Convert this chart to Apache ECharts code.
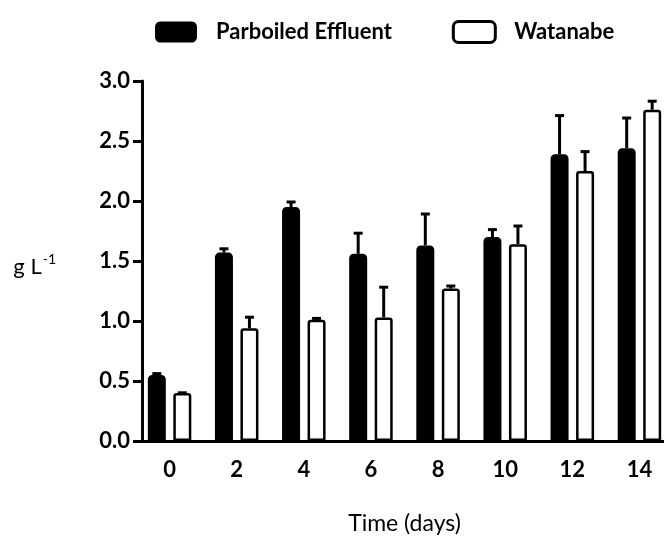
<!DOCTYPE html>
<html>
<head>
<meta charset="utf-8">
<script src="https://cdn.jsdelivr.net/npm/echarts@6/dist/echarts.min.js"></script>
<style>
html, body { margin: 0; padding: 0; background: #fff; }
#main { width: 664px; height: 537px; }
</style>
</head>
<body>
<div id="main"></div>
<script>
// days
const days = ['0', '2', '4', '6', '8', '10', '12', '14']
// means, g L-1
const parboiled = [0.55, 1.57, 1.95, 1.56, 1.63, 1.70, 2.39, 2.44]
const watanabe = [0.40, 0.94, 1.01, 1.03, 1.27, 1.64, 2.25, 2.76]
// upper error (SD)
const parboiledErr = [0.02, 0.04, 0.05, 0.18, 0.27, 0.07, 0.33, 0.26]
const watanabeErr = [0.01, 0.10, 0.02, 0.26, 0.03, 0.16, 0.17, 0.08]
const yTicks = [0, 0.5, 1, 1.5, 2, 2.5, 3]

const FONT = 'Lato'
const BAR_W = 18
const BAR_GAP = 7.5
const half = (BAR_W + BAR_GAP) / 2

function errData(means, errs) {
    return means.map((m, i) => [i, m, m + errs[i]])
}

function errRender(dx) {
    return function (params, api) {
        const lo = api.coord([api.value(0), api.value(1)])
        const hi = api.coord([api.value(0), api.value(2)])
        const x = lo[0] + dx
        return {
            type: 'group',
            children: [
                { type: 'line', shape: { x1: x, y1: lo[1], x2: x, y2: hi[1] + 1 }, style: { stroke: '#000', lineWidth: 3 } },
                { type: 'line', shape: { x1: x - 4.5, y1: hi[1] + 1, x2: x + 4.5, y2: hi[1] + 1 }, style: { stroke: '#000', lineWidth: 3 } }
            ]
        }
    }
}

const chart = echarts.init(document.getElementById('main'))
chart.setOption({
    animation: false,
    backgroundColor: '#fff',
    textStyle: { fontFamily: FONT, color: '#000' },
    legend: {
        left: 150,
        top: 15,
        itemWidth: 42,
        itemHeight: 21,
        itemGap: 60,
        selectedMode: false,
        textStyle: { fontFamily: FONT, fontSize: 22, fontWeight: 'bold', color: '#000', padding: [0, 0, 0, 14] },
        data: [
            { name: 'Parboiled Effluent', icon: 'roundRect', itemStyle: { color: '#000', borderWidth: 0 } },
            { name: 'Watanabe', icon: 'roundRect', itemStyle: { color: '#fff', borderColor: '#000', borderWidth: 3 } }
        ]
    },
    grid: { left: 136, right: -9, top: 81, bottom: 96, outerBoundsMode: 'none', containLabel: false },
    xAxis: {
        type: 'category',
        data: days,
        name: 'Time (days)',
        nameLocation: 'middle',
        nameGap: 71,
        nameTextStyle: { fontFamily: FONT, fontSize: 23, color: '#000' },
        axisLine: { lineStyle: { color: '#000', width: 3 } },
        axisTick: { alignWithLabel: true, length: 9, lineStyle: { color: '#000', width: 3 } },
        axisLabel: { fontFamily: FONT, fontSize: 22, fontWeight: 'bold', color: '#000', margin: 18 }
    },
    yAxis: {
        type: 'value',
        min: yTicks[0],
        max: yTicks[yTicks.length - 1],
        interval: 0.5,
        offset: -6,
        name: '{a|g L}{b|-1}',
        nameLocation: 'middle',
        nameRotate: 0,
        nameGap: 86,
        nameTextStyle: {
            padding: [8, 0, 0, 0],
            rich: {
                a: { fontFamily: FONT, fontSize: 22, color: '#000', verticalAlign: 'bottom' },
                b: { fontFamily: FONT, fontSize: 14, color: '#000', padding: [0, 0, 11, 1], verticalAlign: 'bottom' }
            }
        },
        splitLine: { show: false },
        axisLine: { show: true, lineStyle: { color: '#000', width: 3 } },
        axisTick: { show: true, length: 9, lineStyle: { color: '#000', width: 3 } },
        axisLabel: {
            fontFamily: FONT, fontSize: 22, fontWeight: 'bold', color: '#000', margin: 12,
            formatter: v => v.toFixed(1)
        }
    },
    series: [
        {
            name: 'Parboiled Effluent',
            type: 'bar',
            data: parboiled,
            barWidth: BAR_W,
            barGap: (BAR_GAP / BAR_W * 100) + '%',
            itemStyle: { color: '#000', borderColor: '#000', borderWidth: 3, borderRadius: [3, 3, 0, 0] }
        },
        {
            name: 'Watanabe',
            type: 'bar',
            data: watanabe,
            barWidth: BAR_W,
            itemStyle: { color: '#fff', borderColor: '#000', borderWidth: 2.5, borderRadius: [2, 2, 0, 0] }
        },
        {
            type: 'custom',
            data: errData(parboiled, parboiledErr),
            renderItem: errRender(-half),
            encode: { x: 0, y: [1, 2] },
            z: 3
        },
        {
            type: 'custom',
            data: errData(watanabe, watanabeErr),
            renderItem: errRender(half),
            encode: { x: 0, y: [1, 2] },
            z: 3
        }
    ]
})
</script>
</body>
</html>
